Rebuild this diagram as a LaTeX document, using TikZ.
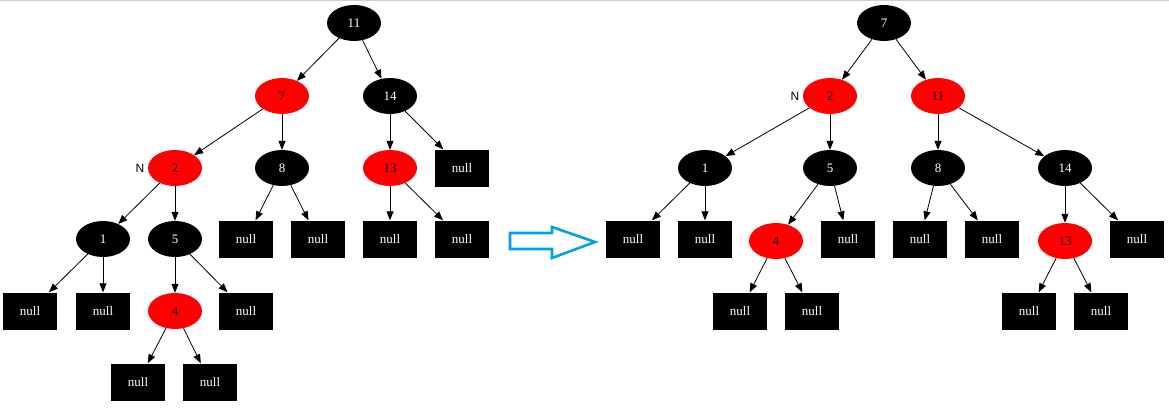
\documentclass[tikz,border=0pt]{standalone}
\usepackage{fontspec}
\setmainfont{Liberation Serif}
\newfontfamily\labelfont{Liberation Sans}
\usetikzlibrary{shapes.geometric,arrows.meta}
\definecolor{topline}{HTML}{C3CEE0}
\definecolor{hollowblue}{HTML}{00A2E8}
\begin{document}
\begin{tikzpicture}[x=1pt,y=-1pt,
  blk/.style={ellipse,fill=black,text=white,minimum width=54pt,minimum height=36pt,inner sep=0pt,font=\fontsize{13}{15}\selectfont},
  rd/.style={ellipse,fill=red,text=black,minimum width=54pt,minimum height=36pt,inner sep=0pt,font=\fontsize{13}{15}\selectfont},
  nil/.style={rectangle,fill=black,text=white,minimum width=54pt,minimum height=37pt,inner sep=0pt,font=\fontsize{13}{15}\selectfont},
  nlabel/.style={font=\labelfont\fontsize{12}{14}\selectfont},
  conn/.style={draw=black,line width=0.8pt,-{Triangle[length=9pt,width=7pt]}}]
\useasboundingbox (0,0) rectangle (1169,409);
\fill[topline] (0,0) rectangle (1169,1.5);

% ---------- tree before the rotation ----------
\node[blk] (L11) at (354,23) {11};
\node[rd]  (L7)  at (282,96) {7};
\node[blk] (L14) at (390,96) {14};
\node[rd]  (L2)  at (175,168) {2};
\node[blk] (L8)  at (282,168) {8};
\node[rd]  (L13) at (390,168) {13};
\node[nil] (La)  at (462,168) {null};
\node[blk] (L1)  at (103,239) {1};
\node[blk] (L5)  at (175,239) {5};
\node[nil] (Lb)  at (246,239) {null};
\node[nil] (Lc)  at (318,239) {null};
\node[nil] (Ld)  at (390,239) {null};
\node[nil] (Le)  at (462,239) {null};
\node[nil] (Lf)  at (30,311) {null};
\node[nil] (Lg)  at (103,311) {null};
\node[rd]  (L4)  at (175,311) {4};
\node[nil] (Lh)  at (246,311) {null};
\node[nil] (Li)  at (138,382) {null};
\node[nil] (Lj)  at (210,382) {null};
\node[nlabel] (LN) at (140,168) {N};

\foreach \p/\c in {L11/L7,L11/L14,L7/L2,L7/L8,L14/L13,L14/La,L2/L1,L2/L5,
                   L8/Lb,L8/Lc,L13/Ld,L13/Le,L1/Lf,L1/Lg,L5/L4,L5/Lh,L4/Li,L4/Lj}
  \draw[conn] (\p) -- (\c);

% ---------- hollow arrow ----------
\draw[hollowblue,line width=2.6pt,line join=miter]
  (510,233) -- (552,233) -- (552,227) -- (595,242) -- (552,258) -- (552,249) -- (510,249) -- cycle;

% ---------- tree after the rotation ----------
\node[blk] (R7)  at (884,23) {7};
\node[rd]  (R2)  at (830,96) {2};
\node[rd]  (R11) at (938,96) {11};
\node[blk] (R1)  at (705,168) {1};
\node[blk] (R5)  at (830,168) {5};
\node[blk] (R8)  at (938,168) {8};
\node[blk] (R14) at (1065,168) {14};
\node[nil] (Ra)  at (633,239) {null};
\node[nil] (Rb)  at (705,239) {null};
\node[rd]  (R4)  at (776,241) {4};
\node[nil] (Rc)  at (848,239) {null};
\node[nil] (Rd)  at (920,239) {null};
\node[nil] (Re)  at (992,239) {null};
\node[rd]  (R13) at (1065,241) {13};
\node[nil] (Rf)  at (1137,239) {null};
\node[nil] (Rg)  at (740,311) {null};
\node[nil] (Rh)  at (812,311) {null};
\node[nil] (Ri)  at (1029,311) {null};
\node[nil] (Rj)  at (1101,311) {null};
\node[nlabel] (RN) at (795,96) {N};

\foreach \p/\c in {R7/R2,R7/R11,R2/R1,R2/R5,R11/R8,R11/R14,R1/Ra,R1/Rb,
                   R5/R4,R5/Rc,R8/Rd,R8/Re,R14/R13,R14/Rf,R4/Rg,R4/Rh,R13/Ri,R13/Rj}
  \draw[conn] (\p) -- (\c);
\end{tikzpicture}
\end{document}
